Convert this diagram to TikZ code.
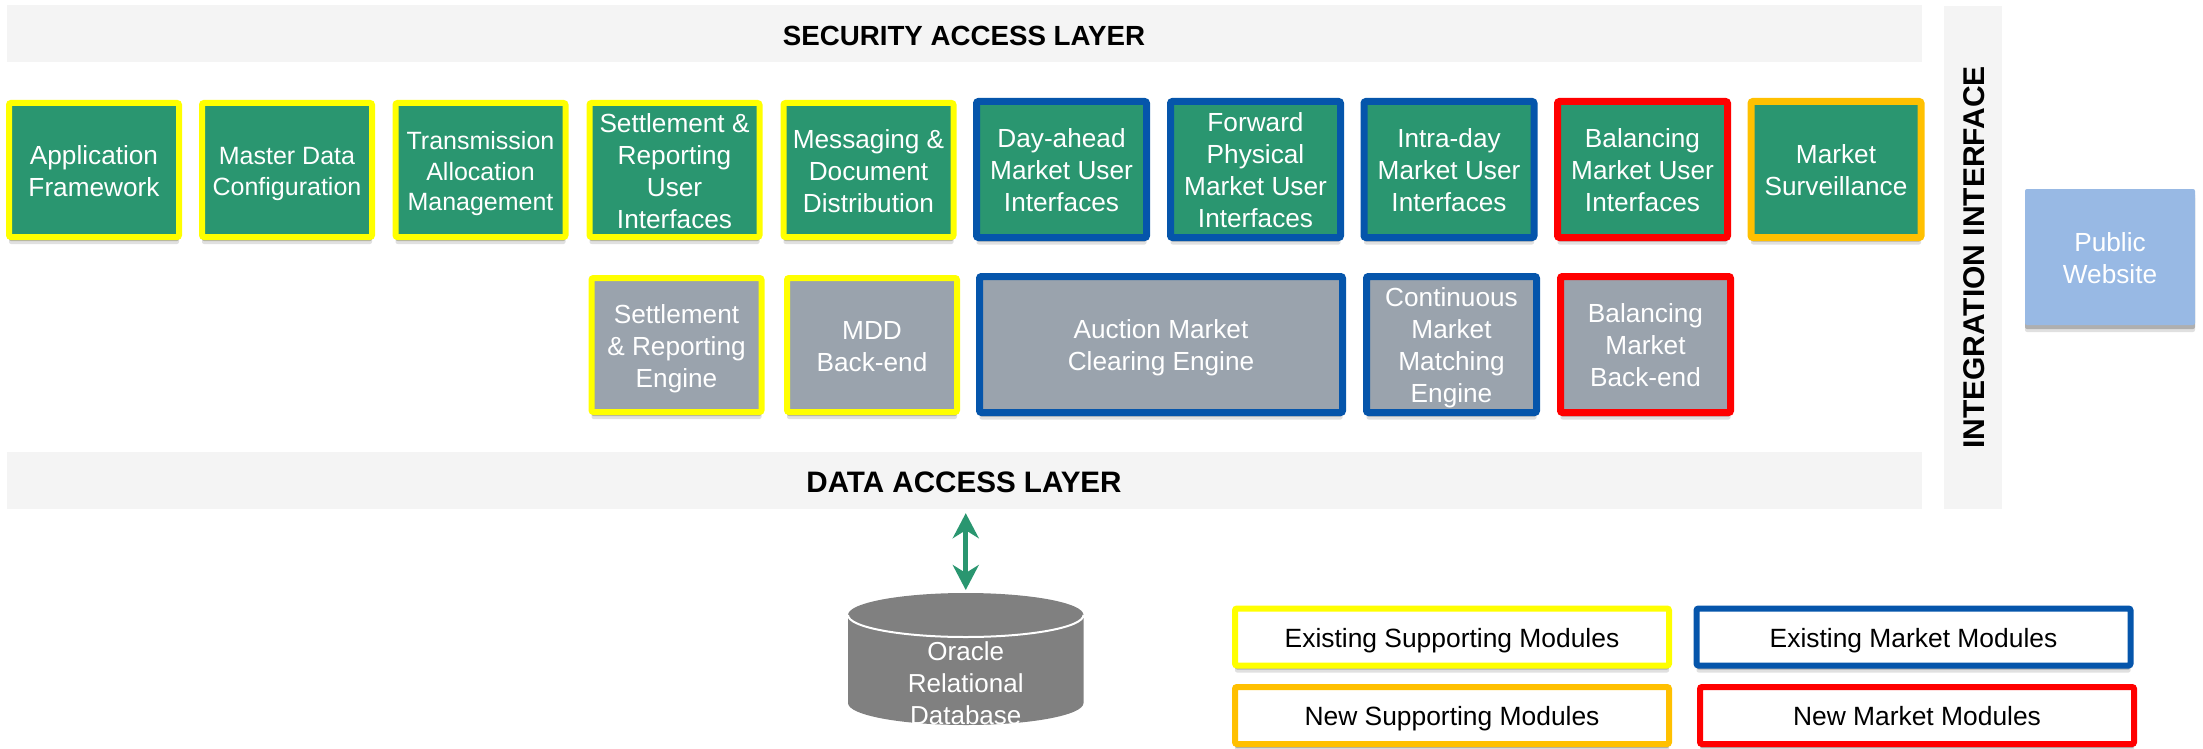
\documentclass[tikz,border=0pt]{standalone}
\usepackage{fontspec}
\setmainfont{Liberation Sans}
\usepackage{xcolor}
\usetikzlibrary{shadows, arrows.meta}

\definecolor{modgreen}{HTML}{2A9670}
\definecolor{modgray}{HTML}{9AA3AD}
\definecolor{modyellow}{HTML}{FFFF00}
\definecolor{modblue}{HTML}{0555AB}
\definecolor{modred}{HTML}{FF0000}
\definecolor{modorange}{HTML}{FFC000}
\definecolor{barfill}{HTML}{F4F4F4}
\definecolor{webfill}{HTML}{98B9E4}
\definecolor{dbfill}{HTML}{808080}

\newcommand{\firstrule}{\rule{0pt}{26pt}}

\tikzset{
	softshadow/.style={
		drop shadow={shadow xshift=0pt, shadow yshift=-7pt, opacity=0.12, fill=black},
		drop shadow={shadow xshift=0pt, shadow yshift=-4pt, opacity=0.22, fill=black}
	},
	lastrule/.style={execute at end node={\rule[-6pt]{0pt}{6pt}}},
	modbox/.style={rectangle, rounded corners=2pt, inner sep=0pt, align=center, text=white, softshadow, lastrule, font=\fontsize{26.2}{32}\selectfont},
	smalltext/.style={font=\fontsize{25}{30.5}\selectfont},
	supbox/.style={modbox, draw=modyellow, line width=6pt, minimum width=170pt, minimum height=134pt},
	mktbox/.style={modbox, draw=modblue, line width=7pt, minimum width=170pt, minimum height=136pt},
	newmktbox/.style={mktbox, draw=modred},
	newsupbox/.style={mktbox, draw=modorange},
	frontbox/.style={fill=modgreen},
	backbox/.style={fill=modgray},
	layerbar/.style={rectangle, fill=barfill, inner sep=0pt, align=center, execute at begin node={\rule{0pt}{24pt}}},
	legendbox/.style={rectangle, rounded corners=2pt, fill=white, inner sep=0pt, line width=6pt, minimum width=434pt, minimum height=57pt, softshadow, lastrule, font=\fontsize{26.4}{32}\selectfont}
}

\begin{document}
\begin{tikzpicture}[x=1pt, y=-1pt]
		\useasboundingbox (0, 0) rectangle (2203, 749);

		\node[layerbar, minimum width=1915pt, minimum height=57pt, font=\fontsize{27.7}{34}\selectfont\bfseries] (secbar) at (964, 33.5) {SECURITY ACCESS LAYER};
		\node[layerbar, minimum width=1915pt, minimum height=57pt, font=\fontsize{29.6}{34}\selectfont\bfseries] (databar) at (964, 480.5) {DATA ACCESS LAYER};
		\node[layerbar, rotate=90, minimum width=503pt, minimum height=58pt, font=\fontsize{30}{34}\selectfont\bfseries] (intbar) at (1973, 257.5) {INTEGRATION INTERFACE};

		\node[supbox, frontbox] (appfw) at (94, 170) {\firstrule Application\\Framework};
		\node[supbox, frontbox, smalltext] (mdconf) at (287, 170) {\firstrule Master Data\\Configuration};
		\node[supbox, frontbox, smalltext] (transalloc) at (480.5, 170) {\firstrule Transmission\\Allocation\\Management};
		\node[supbox, frontbox] (settleui) at (674.5, 170) {\firstrule Settlement \&\\Reporting\\User\\Interfaces};
		\node[supbox, frontbox] (msgdoc) at (868.5, 170) {\firstrule Messaging \&\\Document\\Distribution};
		\node[mktbox, frontbox] (dayui) at (1061.5, 169.5) {\firstrule Day-ahead\\Market User\\Interfaces};
		\node[mktbox, frontbox] (fwdui) at (1255.5, 169.5) {\firstrule Forward\\Physical\\Market User\\Interfaces};
		\node[mktbox, frontbox] (intraui) at (1449, 169.5) {\firstrule Intra-day\\Market User\\Interfaces};
		\node[newmktbox, frontbox] (balui) at (1642.5, 169.5) {\firstrule Balancing\\Market User\\Interfaces};
		\node[newsupbox, frontbox] (surveil) at (1836, 169.5) {\firstrule Market\\Surveillance};

		\node[supbox, backbox] (settleeng) at (676.5, 345) {\firstrule Settlement\\\& Reporting\\Engine};
		\node[supbox, backbox] (mddback) at (872, 345) {\firstrule MDD\\Back-end};
		\node[mktbox, backbox, minimum width=363pt] (auction) at (1161, 344.5) {\firstrule Auction Market\\Clearing Engine};
		\node[mktbox, backbox] (contmatch) at (1451.5, 344.5) {\firstrule Continuous\\Market\\Matching\\Engine};
		\node[newmktbox, backbox] (balback) at (1645.5, 344.5) {\firstrule Balancing\\Market\\Back-end};

		\node[modbox, fill=webfill, minimum width=170pt, minimum height=136pt] (website) at (2110, 257) {\firstrule Public\\Website};

		\fill[dbfill] (848, 615) -- (848, 703) arc[start angle=180, end angle=360, x radius=117.75pt, y radius=22pt] -- (1083.5, 615) arc[start angle=0, end angle=180, x radius=117.75pt, y radius=22pt] -- cycle;
		\draw[white, line width=2pt] (848, 615) arc[start angle=180, end angle=360, x radius=117.75pt, y radius=22pt];
		\coordinate (dbtop) at (965.75, 593);
		\node[align=center, text=white, inner sep=0pt, lastrule, font=\fontsize{26}{32}\selectfont] (dblabel) at (965.75, 682) {\firstrule Oracle\\Relational\\Database};

		\draw[modgreen, line width=5pt, {Stealth[length=25pt, width=26pt, inset=8pt]}-{Stealth[length=25pt, width=26pt, inset=8pt]}, shorten <=4pt, shorten >=3pt] (databar.south -| dbtop) -- (dbtop);

		\node[legendbox, draw=modyellow] (legsup) at (1452, 637) {\firstrule Existing Supporting Modules};
		\node[legendbox, draw=modblue] (legmkt) at (1913.5, 637) {\firstrule Existing Market Modules};
		\node[legendbox, draw=modorange] (legnewsup) at (1452, 715.5) {\firstrule New Supporting Modules};
		\node[legendbox, draw=modred] (legnewmkt) at (1917, 715.5) {\firstrule New Market Modules};
	\end{tikzpicture}
\end{document}
